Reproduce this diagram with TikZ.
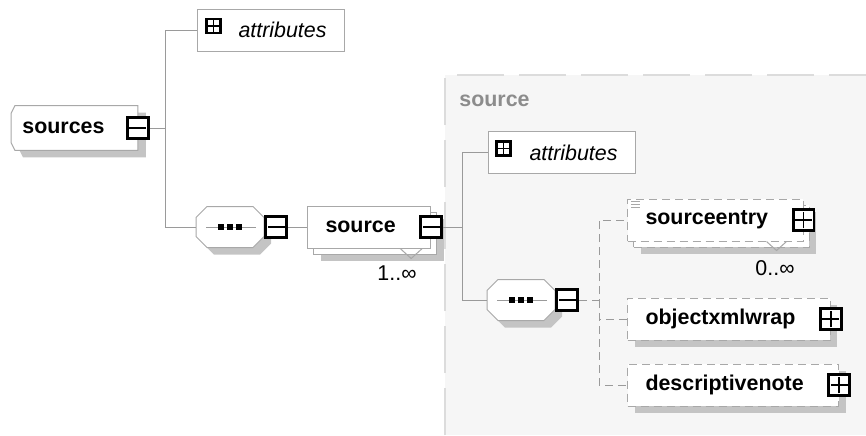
\documentclass[tikz,border=0pt]{standalone}
\usepackage{fontspec}
\setmainfont{Liberation Sans}
\usetikzlibrary{shadows,calc,backgrounds}

\definecolor{framegray}{HTML}{A8A8A8}
\definecolor{linkgray}{HTML}{9A9A9A}
\definecolor{shadowgray}{HTML}{C4C4C4}
\definecolor{panelfill}{HTML}{F6F6F6}
\definecolor{panelline}{HTML}{DCDCDC}
\definecolor{titlegray}{HTML}{8C8C8C}

\tikzset{
  % element boxes
  elembase/.style={draw=framegray, fill=white, line width=0.5pt, anchor=west,
    minimum height=21pt, inner xsep=9pt,
    font=\fontsize{10.7}{12}\selectfont\bfseries,
    execute at end node={\hspace{8.5pt}}},
  elem/.style={elembase,
    general shadow={shadow xshift=3.5pt, shadow yshift=-3.5pt, fill=shadowgray}},
  elemmany/.style={elembase,
    general shadow={shadow xshift=6.5pt, shadow yshift=-6.5pt, fill=shadowgray},
    general shadow={shadow xshift=3pt, shadow yshift=-3pt, fill=white, draw=framegray}},
  optional/.style={dash pattern=on 4pt off 2.5pt},
  rootlabel/.style={anchor=west, minimum height=22pt, inner xsep=5.5pt,
    font=\fontsize{10.7}{12}\selectfont\bfseries,
    execute at end node={\hspace{11pt}}},
  attr/.style={draw=framegray, fill=white, line width=0.5pt, anchor=west,
    minimum height=21pt, inner xsep=9pt,
    font=\fontsize{10.7}{12}\selectfont\itshape,
    execute at begin node={\hspace{11.5pt}}},
  % sequence compositor
  compositor/.pic={
    \filldraw[draw=framegray, fill=white, line width=0.5pt,
      preaction={fill=shadowgray, transform canvas={shift={(3.5pt,-3.5pt)}}}]
      (-23,-20.5) -- (23,-20.5) -- (34,-9.5) -- (34,9.5) -- (23,20.5)
      -- (-23,20.5) -- (-34,9.5) -- (-34,-9.5) -- cycle;
    \draw[linkgray, line width=0.5pt] (-24,0) -- (26,0);
    \foreach \dx in {-9,0,9}
      \fill[black] (\dx-2.6,-2.6) rectangle (\dx+2.6,2.6);
    \node[inner sep=0pt, minimum width=34pt, minimum height=20.5pt] (-box) {};
  },
  % expand / collapse buttons
  btn/.style={draw=black, fill=white, line width=1.4pt, minimum size=10.4pt, inner sep=0pt},
  btnminus/.style={btn, path picture={
      \draw[black, line width=0.9pt] ([xshift=1pt]path picture bounding box.west)
        -- ([xshift=-1pt]path picture bounding box.east);}},
  btnplus/.style={btn, path picture={
      \draw[black, line width=0.9pt] ([xshift=1pt]path picture bounding box.west)
        -- ([xshift=-1pt]path picture bounding box.east);
      \draw[black, line width=0.9pt] ([yshift=1pt]path picture bounding box.south)
        -- ([yshift=-1pt]path picture bounding box.north);}},
  attrbtn/.style={draw=black, fill=white, line width=1.3pt, minimum size=7pt, inner sep=0pt,
    path picture={
      \draw[black, line width=0.7pt] (path picture bounding box.west) -- (path picture bounding box.east);
      \draw[black, line width=0.7pt] (path picture bounding box.south) -- (path picture bounding box.north);}},
  link/.style={draw=linkgray, line width=0.5pt},
  mult/.style={font=\fontsize{10.7}{12}\selectfont, inner sep=0pt},
  notch/.style={draw=framegray, line width=0.5pt}
}

\begin{document}
\begin{tikzpicture}[x=0.5pt, y=-0.5pt]
  \useasboundingbox (0,0) rectangle (866,435);

  % complex type panel
  \fill[panelfill] (445,75) rectangle (866,435);
  \draw[panelline, line width=0.7pt, dash pattern=on 23.5pt off 7.5pt] (445,435) -- (445,75) -- (866,75);
  \node[anchor=west, inner sep=0pt, text=titlegray, font=\fontsize{10.7}{12}\selectfont\bfseries]
    (paneltitle) at (459,101) {source};

  % top level
  \node[rootlabel] (sources) at (11,128) {sources};
  \begin{scope}[on background layer]
    \filldraw[draw=framegray, fill=white, line width=0.5pt,
      preaction={fill=shadowgray, transform canvas={shift={(4pt,-3.5pt)}}}]
      ([xshift=2pt]sources.north west) -- (sources.north east) -- (sources.south east)
      -- ([xshift=2pt]sources.south west) -- ([yshift=4pt]sources.south west)
      -- ([yshift=-4pt]sources.north west) -- cycle;
  \end{scope}
  \node[btnminus] (sourcesbtn) at (sources.east) {};
  \node[attr] (attra) at (197,30) {attributes};
  \node[attrbtn] (attraicon) at ([xshift=8.25pt, yshift=2pt]attra.west) {};
  \pic (seqa) at (230,227) {compositor};
  \node[btnminus, anchor=west] (seqabtn) at (seqa-box.east) {};
  \node[elemmany] (srcel) at (307,227) {source};
  \node[btnminus] (srcbtn) at (srcel.east) {};
  \draw[notch] ($(srcel.south east)+(-31,0)$) -- ++(11,10) -- ++(11,-10);
  \node[mult] (srcmult) at (397,273) {1..∞};

  \draw[link] (sourcesbtn.east) -- ++(16,0) coordinate (trunka) |- (attra.west);
  \draw[link] (trunka) |- (seqa-box.west);
  \draw[link] (seqabtn.east) -- (srcel.west);

  % content of source
  \node[attr] (attrb) at (488,152.5) {attributes};
  \node[attrbtn] (attrbicon) at ([xshift=7.75pt, yshift=2pt]attrb.west) {};
  \pic (seqb) at (521,300) {compositor};
  \node[btnminus, anchor=west] (seqbbtn) at (seqb-box.east) {};

  \node[elemmany, optional] (entry) at (627,220) {sourceentry};
  \node[btnplus] (entrybtn) at (entry.east) {};
  \draw[notch] ($(entry.south east)+(-37,0)$) -- ++(10,9) -- ++(10,-9);
  \foreach \dy in {3,6,9}
    \draw[framegray, line width=0.4pt] ($(entry.north west)+(4,\dy)$) -- ++(9,0);
  \node[mult] (entrymult) at (775,268) {0..∞};
  \node[elem, optional] (objx) at (627,319) {objectxmlwrap};
  \node[btnplus] (objxbtn) at (objx.east) {};
  \node[elem, optional] (descn) at (627,385) {descriptivenote};
  \node[btnplus] (descnbtn) at (descn.east) {};

  \draw[link] (srcbtn.east) -- ++(20,0) coordinate (trunkb) |- (attrb.west);
  \draw[link] (trunkb) |- (seqb-box.west);
  \draw[link, optional] (seqbbtn.east) -- ++(20,0) coordinate (trunkc) |- (entry.west);
  \draw[link, optional] (trunkc) |- (objx.west);
  \draw[link, optional] (trunkc) |- (descn.west);
\end{tikzpicture}
\end{document}
